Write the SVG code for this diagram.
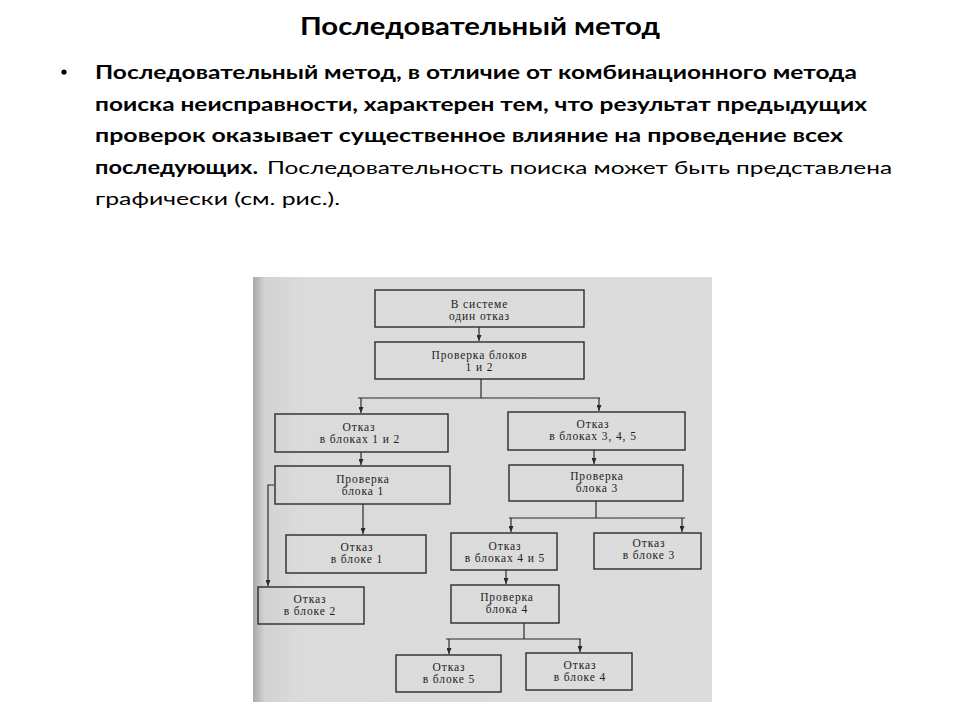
<svg xmlns="http://www.w3.org/2000/svg" width="960" height="720" viewBox="0 0 960 720">
  <defs>
    <style>
      .title { font-family: Lato, "Open Sans", sans-serif; font-weight: bold; font-size: 24px; fill: #000; }
      .b { font-family: Lato, "Open Sans", sans-serif; font-weight: bold; font-size: 18px; fill: #000; }
      .r { font-family: Lato, "Open Sans", sans-serif; font-size: 18px; fill: #000; }
      .box { fill: none; stroke: #2b2b2b; stroke-width: 1.4; }
      .lbl { font-family: "Liberation Serif", "DejaVu Serif", serif; font-size: 11.5px; fill: #222; text-anchor: middle; letter-spacing: 0.9px; }
      .con { fill: none; stroke: #2b2b2b; stroke-width: 1.2; }
    </style>
    <linearGradient id="scan" x1="0" y1="0" x2="1" y2="0">
      <stop offset="0" stop-color="#a8a8a8"/>
      <stop offset="0.025" stop-color="#d2d2d2"/>
      <stop offset="0.1" stop-color="#dbdbdb"/>
      <stop offset="1" stop-color="#dcdcdc"/>
    </linearGradient>
    <marker id="arr" markerWidth="6" markerHeight="5" refX="6" refY="2.5" orient="auto" markerUnits="userSpaceOnUse">
      <path d="M0,0 L6,2.5 L0,5 z" fill="#2b2b2b"/>
    </marker>
  </defs>

  <rect width="960" height="720" fill="#ffffff"/>

  <text class="title" x="300" y="35" textLength="360" lengthAdjust="spacingAndGlyphs">Последовательный метод</text>

  <circle cx="64" cy="72" r="2.6" fill="#000"/>
  <text class="b" x="95" y="79" textLength="762" lengthAdjust="spacingAndGlyphs">Последовательный метод, в отличие от комбинационного метода</text>
  <text class="b" x="95" y="110.5" textLength="772" lengthAdjust="spacingAndGlyphs">поиска неисправности, характерен тем, что результат предыдущих</text>
  <text class="b" x="95" y="142" textLength="748" lengthAdjust="spacingAndGlyphs">проверок оказывает существенное влияние на проведение всех</text>
  <text class="b" x="95" y="173.5" textLength="163" lengthAdjust="spacingAndGlyphs">последующих.</text>
  <text class="r" x="267" y="173.5" textLength="625" lengthAdjust="spacingAndGlyphs">Последовательность поиска может быть представлена</text>
  <text class="r" x="95" y="205" textLength="245" lengthAdjust="spacingAndGlyphs">графически (см. рис.).</text>

  <rect x="253" y="277" width="459" height="425" fill="url(#scan)"/>

  <g id="connectors">
    <line class="con" x1="479" y1="327" x2="479" y2="341" marker-end="url(#arr)"/>
    <polyline class="con" points="481,379 481,398"/>
    <line class="con" x1="358" y1="398" x2="600" y2="398"/>
    <line class="con" x1="361" y1="398" x2="361" y2="413" marker-end="url(#arr)"/>
    <line class="con" x1="599" y1="398" x2="599" y2="411" marker-end="url(#arr)"/>
    <line class="con" x1="361" y1="452" x2="361" y2="465" marker-end="url(#arr)"/>
    <line class="con" x1="363" y1="504" x2="363" y2="534" marker-end="url(#arr)"/>
    <polyline class="con" points="274,485 268,485 268,586" marker-end="url(#arr)"/>
    <line class="con" x1="594" y1="450" x2="594" y2="464" marker-end="url(#arr)"/>
    <line class="con" x1="596" y1="501" x2="596" y2="518"/>
    <line class="con" x1="509" y1="518" x2="685" y2="518"/>
    <line class="con" x1="511" y1="518" x2="511" y2="532" marker-end="url(#arr)"/>
    <line class="con" x1="682" y1="518" x2="682" y2="532" marker-end="url(#arr)"/>
    <line class="con" x1="506" y1="570" x2="506" y2="584" marker-end="url(#arr)"/>
    <line class="con" x1="524" y1="623" x2="524" y2="639"/>
    <line class="con" x1="446" y1="639" x2="581" y2="639"/>
    <line class="con" x1="449" y1="639" x2="449" y2="654" marker-end="url(#arr)"/>
    <line class="con" x1="580" y1="639" x2="580" y2="652" marker-end="url(#arr)"/>
  </g>

  <g id="n1">
    <rect class="box" x="375" y="290" width="209" height="37"/>
    <text class="lbl" x="479.5" y="307.5">В системе</text>
    <text class="lbl" x="479.5" y="319.5">один отказ</text>
  </g>
  <g id="n2">
    <rect class="box" x="375" y="342" width="209" height="37"/>
    <text class="lbl" x="479.5" y="359">Проверка блоков</text>
    <text class="lbl" x="479.5" y="371">1 и 2</text>
  </g>
  <g id="n3">
    <rect class="box" x="275" y="414" width="173" height="38"/>
    <text class="lbl" x="359" y="430.5">Отказ</text>
    <text class="lbl" x="360" y="442.5">в блоках 1 и 2</text>
  </g>
  <g id="n4">
    <rect class="box" x="508" y="412" width="177" height="38"/>
    <text class="lbl" x="593" y="427.5">Отказ</text>
    <text class="lbl" x="593" y="439.5">в блоках 3, 4, 5</text>
  </g>
  <g id="n5">
    <rect class="box" x="275" y="466" width="175" height="38"/>
    <text class="lbl" x="363" y="482.5">Проверка</text>
    <text class="lbl" x="363" y="494.5">блока 1</text>
  </g>
  <g id="n6">
    <rect class="box" x="509" y="465" width="174" height="36"/>
    <text class="lbl" x="597" y="479.5">Проверка</text>
    <text class="lbl" x="597" y="491.5">блока 3</text>
  </g>
  <g id="n7">
    <rect class="box" x="286" y="535" width="140" height="38"/>
    <text class="lbl" x="357" y="551">Отказ</text>
    <text class="lbl" x="357" y="563">в блоке 1</text>
  </g>
  <g id="n8">
    <rect class="box" x="451" y="533" width="106" height="37"/>
    <text class="lbl" x="505" y="549.5">Отказ</text>
    <text class="lbl" x="505" y="561.5">в блоках 4 и 5</text>
  </g>
  <g id="n9">
    <rect class="box" x="594" y="533" width="107" height="36"/>
    <text class="lbl" x="649" y="547">Отказ</text>
    <text class="lbl" x="649" y="559">в блоке 3</text>
  </g>
  <g id="n10">
    <rect class="box" x="258" y="587" width="106" height="37"/>
    <text class="lbl" x="310" y="603">Отказ</text>
    <text class="lbl" x="310" y="615">в блоке 2</text>
  </g>
  <g id="n11">
    <rect class="box" x="451" y="585" width="108" height="38"/>
    <text class="lbl" x="507" y="601">Проверка</text>
    <text class="lbl" x="507" y="613">блока 4</text>
  </g>
  <g id="n12">
    <rect class="box" x="396" y="655" width="105" height="37"/>
    <text class="lbl" x="449" y="670.5">Отказ</text>
    <text class="lbl" x="449" y="682.5">в блоке 5</text>
  </g>
  <g id="n13">
    <rect class="box" x="526" y="653" width="106" height="37"/>
    <text class="lbl" x="580" y="669">Отказ</text>
    <text class="lbl" x="580" y="681">в блоке 4</text>
  </g>
</svg>
